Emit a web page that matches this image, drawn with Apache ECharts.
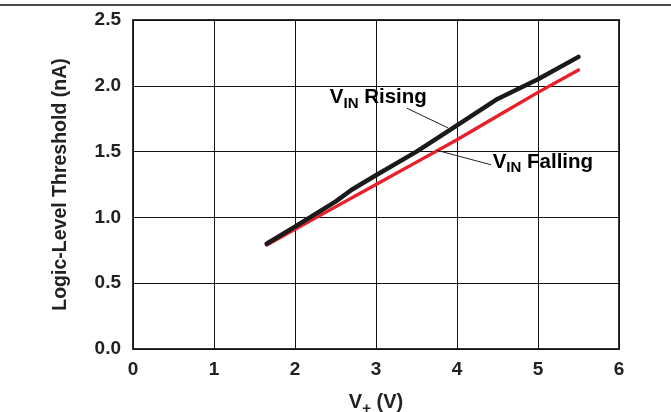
<!DOCTYPE html>
<html><head><meta charset="utf-8">
<script src="https://cdn.jsdelivr.net/npm/echarts@6/dist/echarts.min.js"></script>
<style>html,body{margin:0;padding:0;background:#fff}#c{width:671px;height:412px}</style>
</head><body><div id="c"></div>
<script>
var risingX = [1.65, 2.0, 2.5, 2.7, 3.0, 3.5, 4.0, 4.5, 5.0, 5.5];
var risingY = [0.80, 0.93, 1.12, 1.21, 1.32, 1.50, 1.70, 1.90, 2.05, 2.22];
var fallingX = [1.65, 2.0, 2.5, 3.0, 3.5, 4.0, 4.5, 5.0, 5.5];
var fallingY = [0.79, 0.91, 1.08, 1.25, 1.42, 1.59, 1.77, 1.95, 2.12];
var xTicks = [0, 1, 2, 3, 4, 5, 6];
var yTicks = ['0.0', '0.5', '1.0', '1.5', '2.0', '2.5'];

function pairs(xs, ys){ return xs.map(function(x,i){ return [x, ys[i]]; }); }
var font = '"Liberation Sans", Arial, sans-serif';
var chart = echarts.init(document.getElementById('c'));
var option = {
  animation: false,
  grid: {left: 133, right: 52, top: 20, bottom: 63, containLabel: false, outerBoundsMode: 'none',
    show: true, borderColor: '#333', borderWidth: 2, backgroundColor: 'transparent'},
  xAxis: {
    type: 'value', min: 0, max: 6, interval: 1,
    axisLine: {show: false}, axisTick: {show: false},
    splitLine: {show: true, lineStyle: {color: '#111', width: 1}},
    axisLabel: {color: '#222', fontFamily: font, fontWeight: 'bold', fontSize: 19, margin: 11,
      formatter: function(v){ return String(xTicks[Math.round(v)]); }},
    name: '{a|V}{s|+}{a| (V)}', nameLocation: 'middle', nameGap: 40,
    nameTextStyle: {rich: {
      a: {color: '#222', fontFamily: font, fontWeight: 'bold', fontSize: 20},
      s: {color: '#222', fontFamily: font, fontWeight: 'bold', fontSize: 15, padding: [12, 0, 0, 0]}
    }}
  },
  yAxis: {
    type: 'value', min: 0, max: 2.5, interval: 0.5,
    axisLine: {show: false}, axisTick: {show: false},
    splitLine: {show: true, lineStyle: {color: '#111', width: 1}},
    axisLabel: {color: '#222', fontFamily: font, fontWeight: 'bold', fontSize: 19, margin: 12,
      formatter: function(v){ return yTicks[Math.round(v/0.5)]; }},
    name: 'Logic-Level Threshold (nA)', nameLocation: 'middle', nameGap: 62,
    nameTextStyle: {color: '#222', fontFamily: font, fontWeight: 'bold', fontSize: 19.5}
  },
  series: [
    {type: 'line', name: 'VIN Falling', data: pairs(fallingX, fallingY), showSymbol: false,
      lineStyle: {color: '#e8202a', width: 3.4, cap: 'round'}, z: 3},
    {type: 'line', name: 'VIN Rising', data: pairs(risingX, risingY), showSymbol: false,
      lineStyle: {color: '#1a1a1a', width: 4.5, cap: 'round'}, z: 4,
      markLine: {silent: true, symbol: 'none', label: {show: false},
        lineStyle: {color: '#222', width: 1, type: 'solid'},
        data: [
          [{coord: [3.38, 1.83]}, {coord: [3.89, 1.68]}],
          [{coord: [4.42, 1.40]}, {coord: [3.75, 1.51]}]
        ]}
    }
  ]
};
chart.setOption(option);

var rich = {
  a: {color: '#222', fontFamily: font, fontWeight: 'bold', fontSize: 20.5},
  s: {color: '#222', fontFamily: font, fontWeight: 'bold', fontSize: 15, padding: [12, 0, 0, 0]}
};
var p1 = chart.convertToPixel({gridIndex: 0}, [2.43, 1.91]);
var p2 = chart.convertToPixel({gridIndex: 0}, [4.44, 1.42]);
chart.setOption({graphic: [
  {type: 'line', shape: {x1: 0, y1: 5, x2: 671, y2: 5}, style: {stroke: '#111', lineWidth: 1.5}},
  {type: 'text', x: p1[0], y: p1[1], style: {text: '{a|V}{s|IN}{a| Rising}', rich: rich, verticalAlign: 'middle', align: 'left'}},
  {type: 'text', x: p2[0], y: p2[1], style: {text: '{a|V}{s|IN}{a| Falling}', rich: rich, verticalAlign: 'middle', align: 'left'}}
]});
</script></body></html>
